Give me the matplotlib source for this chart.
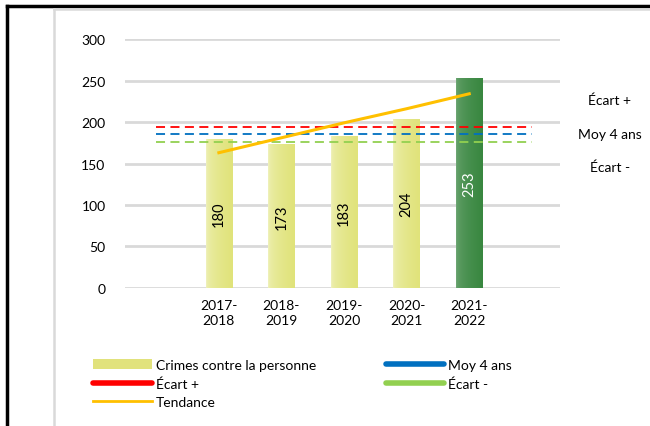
import numpy as np
import matplotlib.pyplot as plt
from matplotlib.lines import Line2D
from matplotlib.patches import Patch

plt.rcParams['font.family'] = ['Lato', 'DejaVu Sans']

# data
periods = ['', '2017-\n2018', '2018-\n2019', '2019-\n2020', '2020-\n2021', '2021-\n2022', '']
crimes = [180, 173, 183, 204, 253]
moy_4_ans = 185
ecart_plus = 194
ecart_moins = 176
tendance = [163, 181, 199, 216, 234]

fig = plt.figure(figsize=(6.5, 4.27), dpi=100)
ax = fig.add_axes([0.1923, 0.3232, 0.6692, 0.5831])

x = np.arange(len(periods))
xb = x[1:6]
bar_w = 0.42

# bars with a soft left-to-right gradient
light_cols = [(0.94, 0.95, 0.75), (0.88, 0.89, 0.48)]
dark_cols = [(0.45, 0.66, 0.47), (0.22, 0.53, 0.25)]
for i, (xi, v) in enumerate(zip(xb, crimes)):
    c0, c1 = dark_cols if i == 4 else light_cols
    bar = ax.bar(xi, v, width=bar_w, color=c1, zorder=2)[0]
    t = np.linspace(0, 1, 50) ** 0.4
    grad = np.array([[np.array(c0) * (1 - s) + np.array(c1) * s for s in t]])
    im = ax.imshow(grad, extent=[xi - bar_w / 2, xi + bar_w / 2, 0, v],
                   aspect='auto', zorder=2.1, origin='lower')
    im.set_clip_path(bar)
    ax.text(xi, v / 2, str(v), rotation=90, ha='center', va='center',
            fontsize=10.5, color='white' if i == 4 else 'black', zorder=4)

# reference lines
ax.plot([x[0], x[-1]], [ecart_plus] * 2, color='#ff0000', lw=1.3,
        dashes=(5, 3), zorder=3)
ax.plot([x[0], x[-1]], [moy_4_ans] * 2, color='#0070c0', lw=1.3,
        dashes=(5, 3), zorder=3)
ax.plot([x[0], x[-1]], [ecart_moins] * 2, color='#92d050', lw=1.3,
        dashes=(5, 3), zorder=3)
ax.plot(xb, tendance, color='#ffc000', lw=2.2, zorder=3.5)

ax.set_ylim(0, 300)
ax.set_yticks(range(0, 301, 50))
ax.set_xticks(x)
ax.set_xticklabels(periods, fontsize=10, linespacing=1.25)
ax.tick_params(axis='both', length=0, labelsize=10)
ax.tick_params(axis='y', pad=14)
ax.tick_params(axis='x', pad=8)
ax.grid(axis='y', color='#d9d9d9', lw=2, zorder=0)
for s in ax.spines.values():
    s.set_visible(False)
ax.set_xlim(-0.5, 6.45)

# labels on the right
fig.text(0.938, 0.765, 'Écart +', ha='center', va='center', fontsize=10)
fig.text(0.938, 0.683, 'Moy 4 ans', ha='center', va='center', fontsize=10)
fig.text(0.938, 0.606, 'Écart -', ha='center', va='center', fontsize=10)

# legend
handles = [
    Patch(facecolor='#e1e27c', edgecolor='none'),
    Line2D([], [], color='#ff0000', lw=4, solid_capstyle='round'),
    Line2D([], [], color='#ffc000', lw=2),
    Line2D([], [], color='#0070c0', lw=4, solid_capstyle='round'),
    Line2D([], [], color='#92d050', lw=4, solid_capstyle='round'),
]
labels = ['Crimes contre la personne', 'Écart +', 'Tendance', 'Moy 4 ans', 'Écart -']
fig.legend(handles, labels, ncol=2, loc='upper left',
           bbox_to_anchor=(0.135, 0.170), frameon=False, fontsize=10,
           handlelength=4.2, handletextpad=0.3, columnspacing=5.0,
           labelspacing=0.45, borderaxespad=0)

# outer frames
fig.add_artist(Line2D([0.0108, 0.0108], [0, 0.984], color='black', lw=2.5,
                      transform=fig.transFigure))
fig.add_artist(Line2D([0.0108, 1], [0.984, 0.984], color='black', lw=2.5,
                      transform=fig.transFigure))
fig.add_artist(Line2D([0.083, 0.083], [0, 0.977], color='#d9d9d9', lw=1.8,
                      transform=fig.transFigure))
fig.add_artist(Line2D([0.083, 1], [0.977, 0.977], color='#d9d9d9', lw=1.8,
                      transform=fig.transFigure))

fig.savefig('out.png', dpi=100)
